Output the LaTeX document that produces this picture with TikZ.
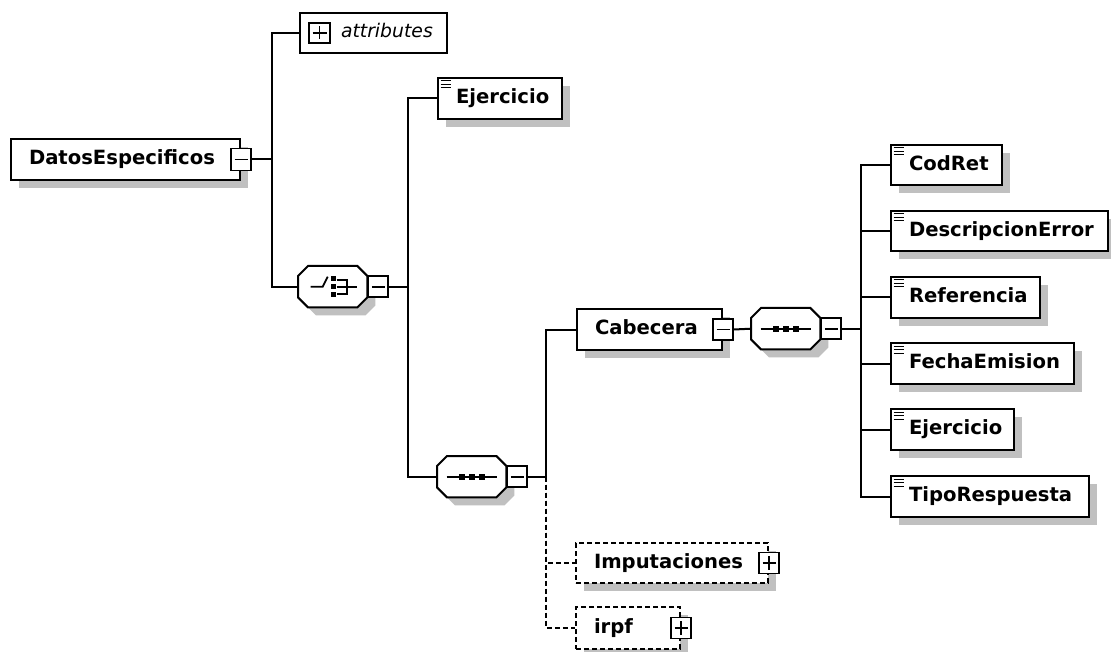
\documentclass[tikz,border=0pt]{standalone}
\usepackage{fontspec}
\setmainfont{DejaVu Sans}
\usetikzlibrary{shadows}
\definecolor{shadowgray}{RGB}{192,192,192}
\newcommand{\elfont}{\fontsize{19.6pt}{22pt}\selectfont\bfseries}
\newcommand{\atfont}{\fontsize{18.8pt}{22pt}\selectfont\itshape}
\newcommand{\elicon}[1]{\foreach \d in {4,7.5,11}{\draw[line width=1pt] ([shift={(3.5pt,-\d pt)}]#1.north west) -- ++(10pt,0pt);}}
\newcommand{\octpath}[1]{([xshift=10pt]#1.north west) -- ([xshift=-10pt]#1.north east) -- ([yshift=-10pt]#1.north east) -- ([yshift=10pt]#1.south east) -- ([xshift=-10pt]#1.south east) -- ([xshift=10pt]#1.south west) -- ([yshift=10pt]#1.south west) -- ([yshift=-10pt]#1.north west) -- cycle}
\newcommand{\octagon}[1]{%
  \fill[fill=shadowgray, transform canvas={shift={(8pt,-8pt)}}] \octpath{#1};
  \draw[fill=white, line width=2pt] \octpath{#1};}
\newcommand{\choiceicon}[1]{%
  \draw[line width=1.8pt] ([shift={(-22pt,0pt)}]#1.center) -- ++(12pt,0pt) -- ++(5pt,10pt);
  \foreach \yy in {8,0,-8}{\fill ([shift={(0.5pt,\yy pt)}]#1.center) +(-2.7pt,-2.7pt) rectangle +(2.7pt,2.7pt);}
  \draw[line width=1.8pt] ([shift={(4pt,7pt)}]#1.center) -- ++(10pt,0pt) -- ++(0pt,-14pt) -- ++(-10pt,0pt);
  \draw[line width=1.8pt] ([shift={(4pt,0pt)}]#1.center) -- ++(20pt,0pt);}
\newcommand{\seqicon}[1]{%
  \draw[line width=1.8pt] ([xshift=-25pt]#1.center) -- ([xshift=25pt]#1.center);
  \foreach \xx in {-10,0,10}{\fill ([xshift=\xx pt]#1.center) +(-3pt,-3pt) rectangle +(3pt,3pt);}}
\tikzset{
  shd/.style={drop shadow={shadow xshift=8pt,shadow yshift=-8pt,fill=shadowgray,opacity=1}},
  el/.style={draw, fill=white, line width=2pt, anchor=north west, inner xsep=18pt, inner ysep=0pt,
    align=left, font=\elfont, minimum height=41pt, text height=14.5pt, text depth=4pt, shd},
  opt/.style={el, dash pattern=on 5pt off 3pt},
  attrbox/.style={draw, fill=white, line width=2pt, anchor=north west, inner xsep=7pt, inner ysep=0pt,
    align=left, font=\atfont, minimum height=40pt, text height=14pt, text depth=4pt},
  oct/.style={rectangle, minimum width=69pt, minimum height=41pt, inner sep=0pt, anchor=north west},
  sq/.style={draw, fill=white, line width=1.8pt, minimum width=20pt, minimum height=21pt, inner sep=0pt},
  minus/.style={sq, path picture={\draw[line width=1.7pt] ([xshift=3.5pt]path picture bounding box.west) -- ([xshift=-3.5pt]path picture bounding box.east);}},
  plus/.style={sq, path picture={\draw[line width=1.7pt] ([xshift=3.5pt]path picture bounding box.west) -- ([xshift=-3.5pt]path picture bounding box.east) ([yshift=-3.5pt]path picture bounding box.north) -- ([yshift=3.5pt]path picture bounding box.south);}},
  conn/.style={line width=2pt},
  dconn/.style={line width=2pt, dash pattern=on 5pt off 3pt},
}
\begin{document}
\begin{tikzpicture}[x=1pt,y=-1pt]
\useasboundingbox[fill=white] (0,0) rectangle (1111,652);
% root
\node[el, text width=193pt] (de) at (10,138) {DatosEspecificos};
\node[minus, minimum height=22pt] (dem) at (de.east) {};
% attributes
\node[attrbox, text width=133pt] (attr) at (299,12) {\hspace*{34pt}attributes};
\node[plus, minimum width=21pt, minimum height=20pt] (ap) at (319.5,33) {};
% first level
\node[el, text width=88pt] (ej1) at (437,77) {Ejercicio};
\elicon{ej1}
\node[oct] (ch) at (298,266) {};
\octagon{ch}
\node[minus, anchor=west] (chm) at (ch.east) {};
\choiceicon{ch}
\node[oct] (s2) at (437,456) {};
\octagon{s2}
\node[minus, anchor=west] (s2m) at (s2.east) {};
\seqicon{s2}
% second level
\node[el, text width=109pt] (cab) at (576,308) {Cabecera};
\node[minus] (cabm) at (cab.east) {};
\node[opt, minimum height=40pt, text width=156pt] (imp) at (575,542) {Imputaciones};
\node[plus] (impp) at (imp.east) {};
\node[opt, minimum height=42pt, text width=68pt] (irpf) at (575,606) {irpf};
\node[plus] (irpfp) at (irpf.east) {};
\node[oct] (s1) at (751,308) {};
\octagon{s1}
\node[minus, anchor=west] (s1m) at (s1.east) {};
\seqicon{s1}
% third level
\node[el, minimum height=40pt, text width=75pt] (c1) at (890,144) {CodRet};
\node[el, minimum height=40pt, text width=181pt] (c2) at (890,210) {DescripcionError};
\node[el, text width=113pt] (c3) at (890,276) {Referencia};
\node[el, text width=147pt] (c4) at (890,342) {FechaEmision};
\node[el, text width=87pt] (c5) at (890,408) {Ejercicio};
\node[el, text width=162pt] (c6) at (890,475) {TipoRespuesta};
\foreach \n in {c1,c2,c3,c4,c5,c6}{\elicon{\n}}
% connectors
\draw[conn] (dem.east) -- ++(20,0) coordinate (t1) |- (attr.west);
\draw[conn] (t1) |- (ch.west);
\draw[conn] (chm.east) -- ++(19,0) coordinate (t2) |- (ej1.west);
\draw[conn] (t2) |- (s2.west);
\draw[conn] (s2m.east) -- ++(18,0) coordinate (t3) |- (cab.west);
\draw[dconn] (t3) |- (imp.west);
\draw[dconn] (t3) |- (irpf.west);
\draw[conn] (cabm.east) -- (s1.west);
\draw[conn] (s1m.east) -- ++(19,0) coordinate (t4);
\foreach \n in {c1,c2,c3,c4,c5,c6}{\draw[conn] (t4) |- (\n.west);}
\end{tikzpicture}
\end{document}
